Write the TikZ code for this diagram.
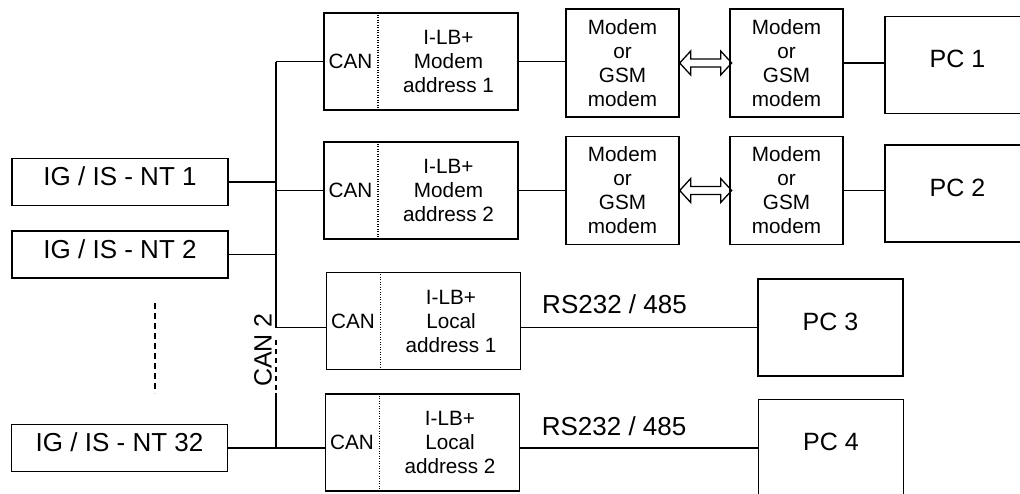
\documentclass[tikz,border=0pt]{standalone}
\usepackage{fontspec}
\setmainfont{Liberation Sans}
\begin{document}
\begin{tikzpicture}[x=1pt,y=-1pt,
        box/.style={draw,line width=1.4pt,inner sep=0pt},
        igbox/.style={box,minimum width=216pt,minimum height=47pt,font=\fontsize{26}{31}\selectfont,text depth=11pt},
        ilbbox/.style={box,line width=1.9pt,minimum width=194pt,minimum height=97pt},
        modembox/.style={box,minimum width=113pt,minimum height=108pt,align=center,font=\fontsize{20.7}{24}\selectfont},
        pcbox/.style={box,line width=1.9pt,minimum width=145pt,minimum height=97pt,font=\fontsize{25}{30}\selectfont,text depth=12pt},
        smalltxt/.style={inner sep=0pt,align=center,font=\fontsize{20.7}{24}\selectfont},
        bigtxt/.style={inner sep=0pt,font=\fontsize{26}{31}\selectfont},
        wire/.style={line width=1.5pt},
        dblarr/.style={line width=1.3pt,line join=miter}]
    \useasboundingbox (0,0) rectangle (1020,493);
    % controllers on the bus
    \node[igbox] (ig1) at (120,182) {IG / IS - NT 1};
    \node[igbox] (ig2) at (120,254.5) {IG / IS - NT 2};
    \node[igbox] (ig32) at (119.5,448) {IG / IS - NT 32};
    \draw[wire,dash pattern=on 6pt off 4pt] (155,303) -- (155,393);
    % I-LB+ units
    \foreach \n/\cx/\cy/\kind/\num in {lbm1/421/61.5/Modem/1,lbm2/421/190.5/Modem/2,lbl1/423.5/321/Local/1,lbl2/422.5/442.5/Local/2}{
        \node[ilbbox] (\n) at (\cx,\cy) {};
        \draw[line width=1.5pt,dash pattern=on 1.2pt off 1.3pt] ([xshift=55pt]\n.north west) -- ([xshift=55pt]\n.south west);
        \node[smalltxt] (\n-can) at ([xshift=27.5pt]\n.west) {CAN};
        \node[smalltxt] (\n-txt) at ([xshift=27.5pt]\n.center) {I-LB+\\\kind\\address \num};
    }
    % modems
    \node[modembox] (ma1) at (622.5,63) {Modem\\or\\GSM\\modem};
    \node[modembox] (mb1) at (786.5,63) {Modem\\or\\GSM\\modem};
    \node[modembox] (ma2) at (622.5,190.5) {Modem\\or\\GSM\\modem};
    \node[modembox] (mb2) at (786.5,190.5) {Modem\\or\\GSM\\modem};
    % computers
    \node[pcbox] (pc1) at (957.5,65) {PC 1};
    \node[pcbox] (pc2) at (957.5,193.5) {PC 2};
    \node[pcbox] (pc3) at (830.5,327.5) {PC 3};
    \node[pcbox] (pc4) at (831,448) {PC 4};
    % CAN 2 bus
    \coordinate (bustop) at (276,62);
    \coordinate (busgap) at (276,340);
    \coordinate (busmid) at (276,393);
    \draw[wire] (bustop) -- (bustop |- pc3.west);
    \draw[wire,dash pattern=on 5pt off 4pt] (busgap) -- (busmid);
    \draw[wire] (busmid) -- (busmid |- ig32.east);
    \node[bigtxt,rotate=90,font=\fontsize{25}{30}\selectfont] (can2) at (263,350) {CAN 2};
    \draw[wire] (ig1.east) -- (ig1.east -| bustop);
    \draw[wire] (ig2.east) -- (ig2.east -| bustop);
    \draw[wire] (ig32.east) -- (ig32.east -| bustop);
    \draw[wire] (lbm1.west -| bustop) -- (lbm1.west);
    \draw[wire] (lbm2.west -| bustop) -- (lbm2.west);
    \draw[wire] (pc3.west -| bustop) -- (pc3.west -| lbl1.west);
    \draw[wire] (pc4.west -| bustop) -- (pc4.west -| lbl2.west);
    % links to the computers
    \draw[wire] (lbm1.east) -- (lbm1.east -| ma1.west);
    \draw[wire] (lbm2.east) -- (lbm2.east -| ma2.west);
    \draw[wire] (mb1.east) -- (mb1.east -| pc1.west);
    \draw[wire] (mb2.east) -- (mb2.east -| pc2.west);
    \draw[dblarr] (ma1.east) -- ++(11,-12) -- ++(0,8) -- ++(30,0) -- ++(0,-8) -- ++(11,12)
        -- ++(-11,12) -- ++(0,-8) -- ++(-30,0) -- ++(0,8) -- cycle;
    \draw[dblarr] (ma2.east) -- ++(11,-12) -- ++(0,8) -- ++(30,0) -- ++(0,-8) -- ++(11,12)
        -- ++(-11,12) -- ++(0,-8) -- ++(-30,0) -- ++(0,8) -- cycle;
    \draw[wire] (pc3.west -| lbl1.east) -- (pc3.west)
        node[bigtxt,pos=0.395,anchor=base,yshift=14pt] (rs1) {RS232 / 485};
    \draw[wire] (pc4.west -| lbl2.east) -- (pc4.west)
        node[bigtxt,pos=0.395,anchor=base,yshift=13pt] (rs2) {RS232 / 485};
\end{tikzpicture}
\end{document}
